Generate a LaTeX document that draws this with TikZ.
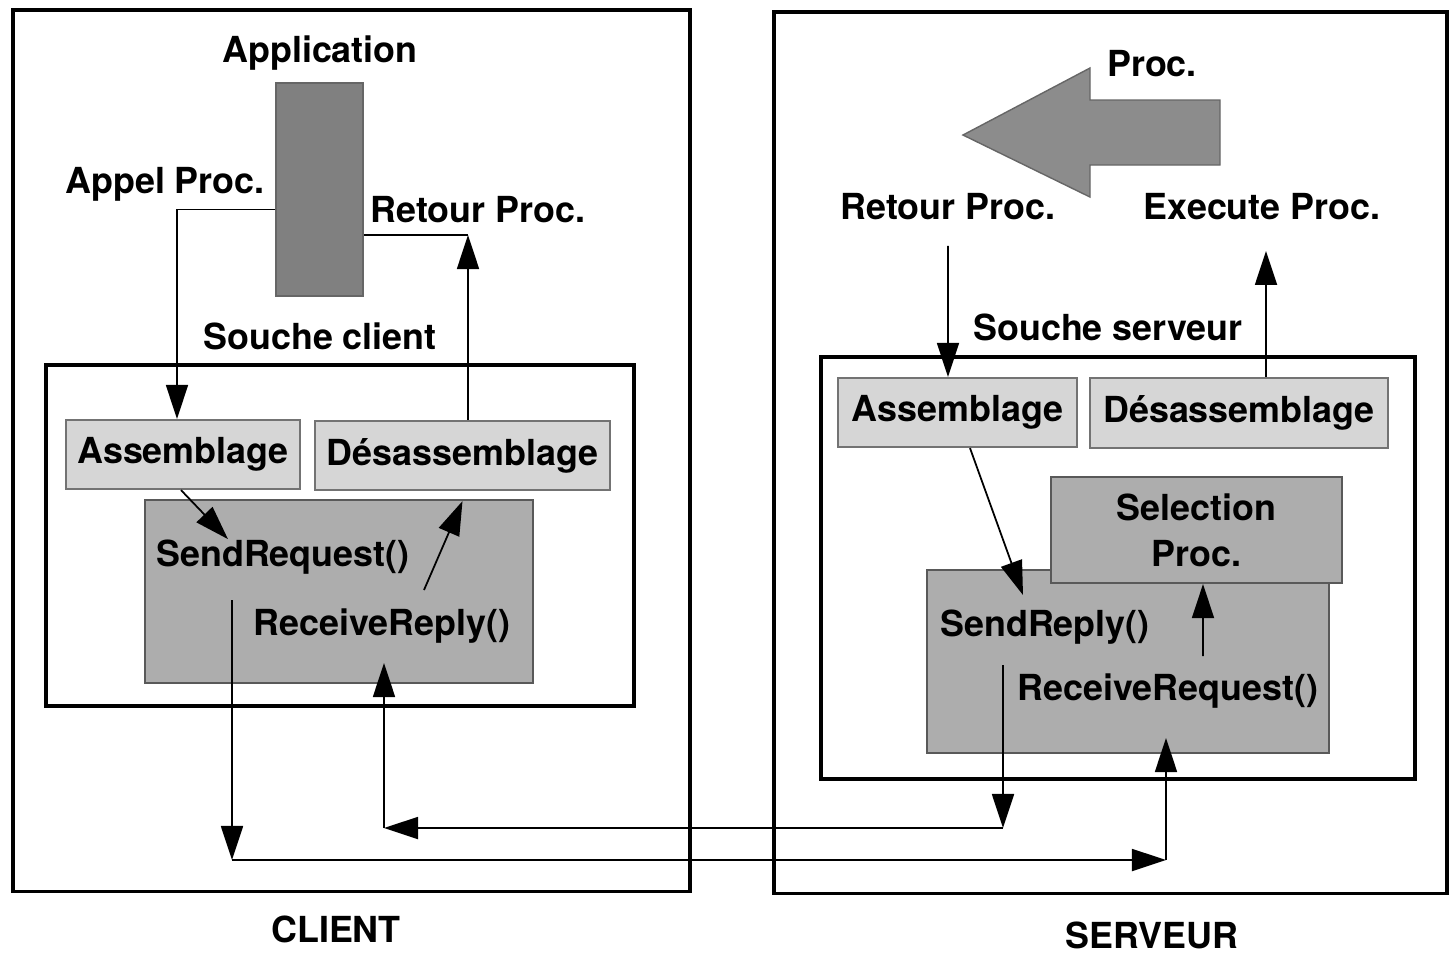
\documentclass[tikz,border=0pt]{standalone}
\usepackage{fontspec}
\setmainfont{TeX Gyre Heros}
\usetikzlibrary{arrows.meta}
\definecolor{appgray}{gray}{0.5}
\definecolor{arrowgray}{gray}{0.55}
\definecolor{midgray}{gray}{0.68}
\definecolor{lightgray2}{gray}{0.84}
\begin{document}
\begin{tikzpicture}[x=0.01cm,y=-0.01cm,
        every node/.style={font=\fontsize{10.2}{13}\selectfont\bfseries,inner sep=0pt},
        frame/.style={draw,line width=1pt},
        lightbox/.style={draw=black!55,fill=lightgray2,line width=0.6pt},
        midbox/.style={draw=black!65,fill=midgray,line width=0.6pt},
        wire/.style={line width=0.5pt},
        conn/.style={wire,-{Triangle[length=3.4mm,width=2.2mm]}}]
        \useasboundingbox(0,0)rectangle(1450,953);
        \node[frame,minimum width=6.77cm,minimum height=8.81cm](client)at(351.5,450.5){};
        \node[fill=appgray,draw=black!60,minimum width=0.87cm,minimum height=2.13cm](app)at(319.5,189.5){};
        \node(applbl)at(320,53){Application};
        \node(appel)at(165,184){Appel Proc.};
        \node(retc)at(478,210){Retour Proc.};
        \node(souchec)at(320,336){Souche client};
        \node[frame,minimum width=5.88cm,minimum height=3.41cm](stubc)at(340,535.5){};
        \node[lightbox,minimum width=2.34cm,minimum height=0.69cm](assc)at(183,454.5){Assemblage};
        \node[lightbox,minimum width=2.95cm,minimum height=0.69cm](desc)at(462.5,455.5){Désassemblage};
        \node[midbox,minimum width=3.88cm,minimum height=1.83cm](rpcc)at(339,591.5){};
        \node(sreq)at(283,557){SendRequest()};
        \node(rrep)at(382,626){ReceiveReply()};
        \node(clientlbl)at(336,929){CLIENT};
        \node[frame,minimum width=6.73cm,minimum height=8.81cm](server)at(1110.5,452.5){};
        \filldraw[fill=arrowgray,draw=black!60](963,135)--(1090,68)--(1090,100)--(1220,100)--(1220,165)--(1090,165)--(1090,197)--cycle;
        \node(proc)at(1152,64){Proc.};
        \node(rets)at(948,207){Retour Proc.};
        \node(exec)at(1262,207){Execute Proc.};
        \node(souches)at(1108,327){Souche serveur};
        \node[frame,minimum width=5.94cm,minimum height=4.22cm](stubs)at(1118,568){};
        \node[lightbox,minimum width=2.39cm,minimum height=0.69cm](asss)at(957.5,412.5){Assemblage};
        \node[lightbox,minimum width=2.98cm,minimum height=0.70cm](dess)at(1239,413){Désassemblage};
        \node[midbox,minimum width=4.02cm,minimum height=1.83cm](rpcs)at(1128,661.5){};
        \node[midbox,minimum width=2.91cm,minimum height=1.06cm,align=center](sel)at(1196.5,530){Selection\\Proc.};
        \node(srep)at(1045,627){SendReply()};
        \node(rreq)at(1168,691){ReceiveRequest()};
        \node(serverlbl)at(1152,935){SERVEUR};
        \coordinate(rc)at(468,235);
        \coordinate(rr)at(424,590);
        \coordinate(sq)at(232,600);
        \coordinate(l1)at(232,860);
        \coordinate(l2)at(1166,860);
        \coordinate(rq)at(1166,738);
        \coordinate(sp)at(1003,665);
        \coordinate(l3)at(1003,828);
        \coordinate(l4)at(384,828);
        \coordinate(rp)at(384,663);
        \coordinate(sr)at(1023,595);
        \draw[conn]([yshift=-0.2cm]app.west)-|([xshift=-0.06cm]assc.north);
        \draw[conn]([xshift=0.055cm]desc.north)--(rc);
        \draw[wire](rc)--(rc-|app.east);
        \draw[conn]([xshift=-0.02cm]assc.south)--([xshift=-0.55cm]sreq.north);
        \draw[conn](rr)--([yshift=-0.1cm]desc.south);
        \draw[conn](sq)--(l1);
        \draw[conn](l1)--(l2);
        \draw[conn](l2)--(rq);
        \draw[conn](sp)--(l3);
        \draw[conn](l3)--(l4);
        \draw[conn](l4)--(rp);
        \draw[conn]([yshift=-0.25cm]rets.south)--([xshift=-0.095cm]asss.north);
        \draw[conn]([xshift=0.27cm]dess.north)--([xshift=0.04cm,yshift=-0.3cm]exec.south);
        \draw[conn]([xshift=0.125cm]asss.south)--(sr);
        \draw[conn]([xshift=0.35cm,yshift=0.17cm]rreq.north)--([xshift=0.065cm]sel.south);
\end{tikzpicture}
\end{document}
